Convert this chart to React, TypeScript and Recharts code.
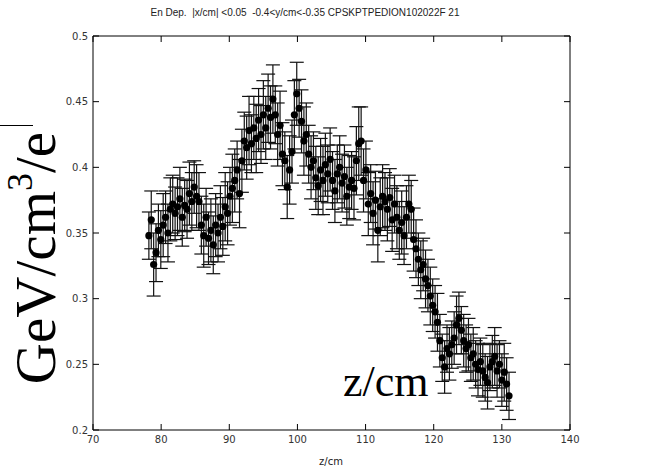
import { ScatterChart, Scatter, XAxis, YAxis, ErrorBar } from "recharts";

const zPos = [
  78.2, 78.55, 78.9, 79.25, 79.6, 79.95, 80.3, 80.65, 81.0, 81.35,
  81.7, 82.05, 82.4, 82.75, 83.1, 83.45, 83.8, 84.15, 84.5, 84.85,
  85.2, 85.55, 85.9, 86.25, 86.6, 86.95, 87.3, 87.65, 88.0, 88.35,
  88.7, 89.05, 89.4, 89.75, 90.1, 90.45, 90.8, 91.15, 91.5, 91.85,
  92.2, 92.55, 92.9, 93.25, 93.6, 93.95, 94.3, 94.65, 95.0, 95.35,
  95.7, 96.05, 96.4, 96.75, 97.1, 97.45, 97.8, 98.15, 98.5, 98.85,
  99.2, 99.55, 99.9, 100.25, 100.6, 100.95, 101.3, 101.65, 102.0, 102.35,
  102.7, 103.05, 103.4, 103.75, 104.1, 104.45, 104.8, 105.15, 105.5, 105.85,
  106.2, 106.55, 106.9, 107.25, 107.6, 107.95, 108.3, 108.65, 109.0, 109.35,
  109.7, 110.05, 110.4, 110.75, 111.1, 111.45, 111.8, 112.15, 112.5, 112.85,
  113.2, 113.55, 113.9, 114.25, 114.6, 114.95, 115.3, 115.65, 116.0, 116.35,
  116.7, 117.05, 117.4, 117.75, 118.1, 118.45, 118.8, 119.15, 119.5, 119.85,
  120.2, 120.55, 120.9, 121.25, 121.6, 121.95, 122.3, 122.65, 123.0, 123.35,
  123.7, 124.05, 124.4, 124.75, 125.1, 125.45, 125.8, 126.15, 126.5, 126.85,
  127.2, 127.55, 127.9, 128.25, 128.6, 128.95, 129.3, 129.65, 130.0, 130.35,
  130.7, 131.05,
];

const energy = [
  0.348, 0.36, 0.326, 0.335, 0.352, 0.345, 0.356, 0.362, 0.35, 0.368,
  0.372, 0.365, 0.37, 0.376, 0.362, 0.371, 0.368, 0.38, 0.374, 0.385,
  0.378, 0.374, 0.356, 0.348, 0.362, 0.346, 0.352, 0.341, 0.356, 0.35,
  0.362, 0.355, 0.37, 0.365, 0.378, 0.384, 0.39, 0.398, 0.38, 0.405,
  0.42, 0.415, 0.428, 0.418, 0.43, 0.422, 0.436, 0.425, 0.44, 0.43,
  0.445, 0.438, 0.452, 0.44, 0.425, 0.432, 0.41, 0.405, 0.385, 0.398,
  0.412, 0.44, 0.456, 0.445, 0.435, 0.42, 0.425, 0.41, 0.4, 0.405,
  0.392, 0.386, 0.398, 0.39, 0.402, 0.395, 0.406, 0.39, 0.382, 0.395,
  0.4, 0.388, 0.393, 0.378, 0.385, 0.39, 0.384, 0.405, 0.418, 0.42,
  0.39, 0.398, 0.372, 0.38, 0.365, 0.375, 0.352, 0.37, 0.378, 0.374,
  0.368, 0.377, 0.36, 0.372, 0.362, 0.352, 0.358, 0.348, 0.362, 0.372,
  0.368, 0.345, 0.338, 0.33, 0.322, 0.326, 0.315, 0.31, 0.302, 0.295,
  0.29, 0.282, 0.268, 0.255, 0.248, 0.262, 0.258, 0.265, 0.27, 0.28,
  0.285, 0.276, 0.268, 0.262, 0.265, 0.255, 0.258, 0.25, 0.246, 0.252,
  0.245, 0.24, 0.236, 0.248, 0.252, 0.256, 0.245, 0.25, 0.238, 0.244,
  0.235, 0.226,
];

const errors = [
  0.018, 0.022, 0.024, 0.022, 0.02, 0.022, 0.024, 0.02, 0.022, 0.024,
  0.022, 0.02, 0.022, 0.024, 0.022, 0.02, 0.022, 0.024, 0.022, 0.02,
  0.024, 0.022, 0.022, 0.024, 0.022, 0.02, 0.024, 0.022, 0.024, 0.022,
  0.024, 0.022, 0.026, 0.024, 0.022, 0.026, 0.024, 0.022, 0.026, 0.024,
  0.022, 0.024, 0.026, 0.022, 0.024, 0.026, 0.024, 0.022, 0.026, 0.024,
  0.026, 0.024, 0.026, 0.022, 0.024, 0.026, 0.024, 0.022, 0.024, 0.026,
  0.024, 0.026, 0.024, 0.022, 0.024, 0.026, 0.024, 0.022, 0.024, 0.022,
  0.024, 0.022, 0.024, 0.026, 0.024, 0.022, 0.024, 0.022, 0.024, 0.022,
  0.024, 0.022, 0.024, 0.022, 0.024, 0.022, 0.024, 0.026, 0.028, 0.026,
  0.024, 0.022, 0.024, 0.022, 0.024, 0.022, 0.024, 0.022, 0.024, 0.022,
  0.024, 0.022, 0.024, 0.022, 0.024, 0.022, 0.024, 0.022, 0.024, 0.022,
  0.022, 0.024, 0.022, 0.02, 0.022, 0.02, 0.022, 0.02, 0.022, 0.02,
  0.02, 0.022, 0.02, 0.018, 0.02, 0.018, 0.02, 0.018, 0.02, 0.022,
  0.02, 0.018, 0.02, 0.018, 0.02, 0.018, 0.02, 0.018, 0.02, 0.018,
  0.02, 0.018, 0.02, 0.018, 0.02, 0.022, 0.02, 0.018, 0.02, 0.022,
  0.02, 0.018,
];

const xTicks = [70, 80, 90, 100, 110, 120, 130, 140];
const yTicks = [0.2, 0.25, 0.3, 0.35, 0.4, 0.45, 0.5];

const title = "En Dep.  |x/cm| <0.05  -0.4<y/cm<-0.35 CPSKPTPEDION102022F 21";

const data = zPos.map((z, i) => ({ z, y: energy[i], err: errors[i] }));

const tickFont = { fontSize: 10, fontFamily: "DejaVu Sans", fill: "#333" };

const Dot = (props: any) => {
  const { cx, cy } = props;
  return <circle cx={cx} cy={cy} r={3.6} fill="#000" />;
};

const Nothing = () => <g />;

export default function App() {
  return (
    <div style={{ position: "relative", width: 667, height: 470, background: "#fff" }}>
      <style>{`body{margin:0}`}</style>
      <ScatterChart width={667} height={470} margin={{ top: 26, right: 87, bottom: 10, left: 33 }}>
        <XAxis
          xAxisId="b"
          type="number"
          dataKey="z"
          domain={[70, 140]}
          ticks={xTicks}
          tickSize={-6}
          tickMargin={12}
          height={30}
          stroke="#000"
          tick={tickFont}
        />
        <XAxis
          xAxisId="t"
          orientation="top"
          type="number"
          dataKey="z"
          domain={[70, 140]}
          ticks={xTicks}
          tickSize={-6}
          tickMargin={0}
          height={10}
          tick={<Nothing />}
          stroke="#000"
        />
        <YAxis
          yAxisId="l"
          type="number"
          dataKey="y"
          domain={[0.2, 0.5]}
          ticks={yTicks}
          tickSize={-6}
          tickMargin={11}
          width={60}
          stroke="#000"
          tick={tickFont}
        />
        <YAxis
          yAxisId="r"
          orientation="right"
          type="number"
          dataKey="y"
          domain={[0.2, 0.5]}
          ticks={yTicks}
          tickSize={-6}
          tickMargin={0}
          width={10}
          tick={<Nothing />}
          stroke="#000"
        />
        <Scatter data={data} xAxisId="b" yAxisId="l" shape={<Dot />} isAnimationActive={false}>
          <ErrorBar dataKey="err" direction="y" width={7} stroke="#111" strokeWidth={1.2} />
        </Scatter>
        <Scatter
          data={data}
          xAxisId="t"
          yAxisId="r"
          shape={<Nothing />}
          isAnimationActive={false}
        />
      </ScatterChart>
      <svg width={667} height={470} style={{ position: "absolute", left: 0, top: 0, pointerEvents: "none" }}>
        <text x={305} y={16} textAnchor="middle" fontSize={10} fontFamily="Liberation Sans" fill="#222" style={{ whiteSpace: "pre" }}>
          {title}
        </text>
        <line x1={0} y1={125.5} x2={33} y2={125.5} stroke="#000" strokeWidth={1} />
        <text
          x={55}
          y={258}
          transform="rotate(-90 55 258)"
          textAnchor="middle"
          fontSize={57}
          fontFamily="Liberation Serif"
          fill="#000"
        >
          GeV/cm
          <tspan fontSize={36} dy={-23}>3</tspan>
          <tspan dy={23}>/e</tspan>
        </text>
        <text x={343} y={396} fontSize={44} fontFamily="Liberation Serif" fill="#000">
          z/cm
        </text>
        <text x={331} y={465} textAnchor="middle" fontSize={10} fontFamily="DejaVu Sans" fill="#222">
          z/cm
        </text>
      </svg>
    </div>
  );
}
